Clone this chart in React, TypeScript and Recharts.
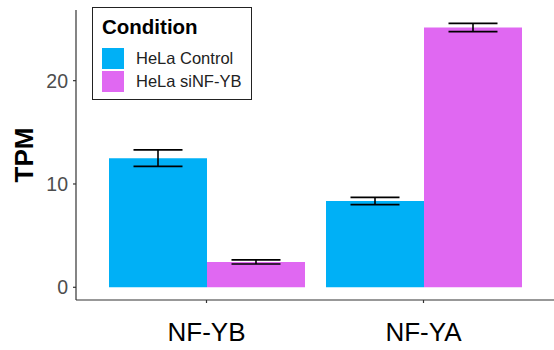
/**
 * TPM bar chart: HeLa control vs siNF-YB, two genes, mean ± error whiskers.
 */
import { Bar, BarChart, ErrorBar, Legend, XAxis, YAxis } from "recharts";

// ---------------------------------------------------------------------------
// Data
// ---------------------------------------------------------------------------

const genes = ["NF-YB", "NF-YA"];
const conditions = ["HeLa Control", "HeLa siNF-YB"];
const controlMean = [12.5, 8.35];
const controlErr = [0.8, 0.35];
const knockdownMean = [2.45, 25.15];
const knockdownErr = [0.2, 0.4];
const yTicks = [0, 10, 20];

const COLORS = ["#00B0F6", "#E068F2"];
const FONT = "'Liberation Sans', Arial, sans-serif";

const rows = genes.map((gene, i) => ({
  gene,
  control: controlMean[i],
  controlErr: controlErr[i],
  knockdown: knockdownMean[i],
  knockdownErr: knockdownErr[i],
}));

// ---------------------------------------------------------------------------
// Legend — boxed, ggplot style with a bold title
// ---------------------------------------------------------------------------

function ConditionLegend() {
  return (
    <div
      style={{
        border: "1.5px solid #222",
        background: "#fff",
        padding: "6px 8px 6px 9px",
        fontFamily: FONT,
        boxSizing: "border-box",
        width: 160,
        height: 93,
      }}
    >
      <div style={{ fontWeight: "bold", fontSize: 20.5, color: "#000", lineHeight: "24px", marginTop: 1 }}>
        Condition
      </div>
      <div style={{ marginTop: 8 }}>
        {conditions.map((name, i) => (
          <div key={name} style={{ display: "flex", alignItems: "center", height: 23 }}>
            <span style={{ width: 22, height: 21, background: COLORS[i], display: "inline-block" }} />
            <span style={{ marginLeft: 12, fontSize: 16.5, color: "#222" }}>{name}</span>
          </div>
        ))}
      </div>
    </div>
  );
}

// ---------------------------------------------------------------------------
// App
// ---------------------------------------------------------------------------

export default function App() {
  return (
    <div style={{ position: "absolute", left: 0, top: 0, background: "#fff" }}>
      <BarChart
        width={554}
        height={350}
        data={rows}
        margin={{ top: 10, right: 0, bottom: 0, left: 0 }}
        barCategoryGap={11}
        barGap={0}
      >
        <XAxis
          dataKey="gene"
          height={50}
          padding={{ left: 22, right: 22 }}
          axisLine={{ stroke: "#333", strokeWidth: 1.2 }}
          tickLine={{ stroke: "#333", strokeWidth: 1.2 }}
          tickSize={3}
          tickMargin={20}
          tick={{ fontSize: 26, fill: "#000", fontFamily: FONT }}
        />
        <YAxis
          width={76}
          domain={[-1.23, 26.84]}
          ticks={yTicks}
          allowDataOverflow
          axisLine={{ stroke: "#333", strokeWidth: 1.2 }}
          tickLine={{ stroke: "#333", strokeWidth: 1.2 }}
          tickSize={3}
          tickMargin={5}
          tick={{ fontSize: 19.5, fill: "#4D4D4D", fontFamily: FONT }}
          label={{
            value: "TPM",
            angle: -90,
            position: "insideLeft",
            offset: 24,
            style: { fontSize: 26, fontWeight: "bold", fill: "#000", fontFamily: FONT, textAnchor: "middle" },
          }}
        />
        <Legend
          layout="vertical"
          align="center"
          verticalAlign="middle"
          wrapperStyle={{ top: 7, left: 92, width: 160, height: 93 }}
          content={() => <ConditionLegend />}
        />
        <Bar dataKey="control" name={conditions[0]} fill={COLORS[0]} isAnimationActive={false}>
          <ErrorBar dataKey="controlErr" width={24.5} stroke="#000" strokeWidth={1.6} />
        </Bar>
        <Bar dataKey="knockdown" name={conditions[1]} fill={COLORS[1]} isAnimationActive={false}>
          <ErrorBar dataKey="knockdownErr" width={24.5} stroke="#000" strokeWidth={1.6} />
        </Bar>
      </BarChart>
    </div>
  );
}
